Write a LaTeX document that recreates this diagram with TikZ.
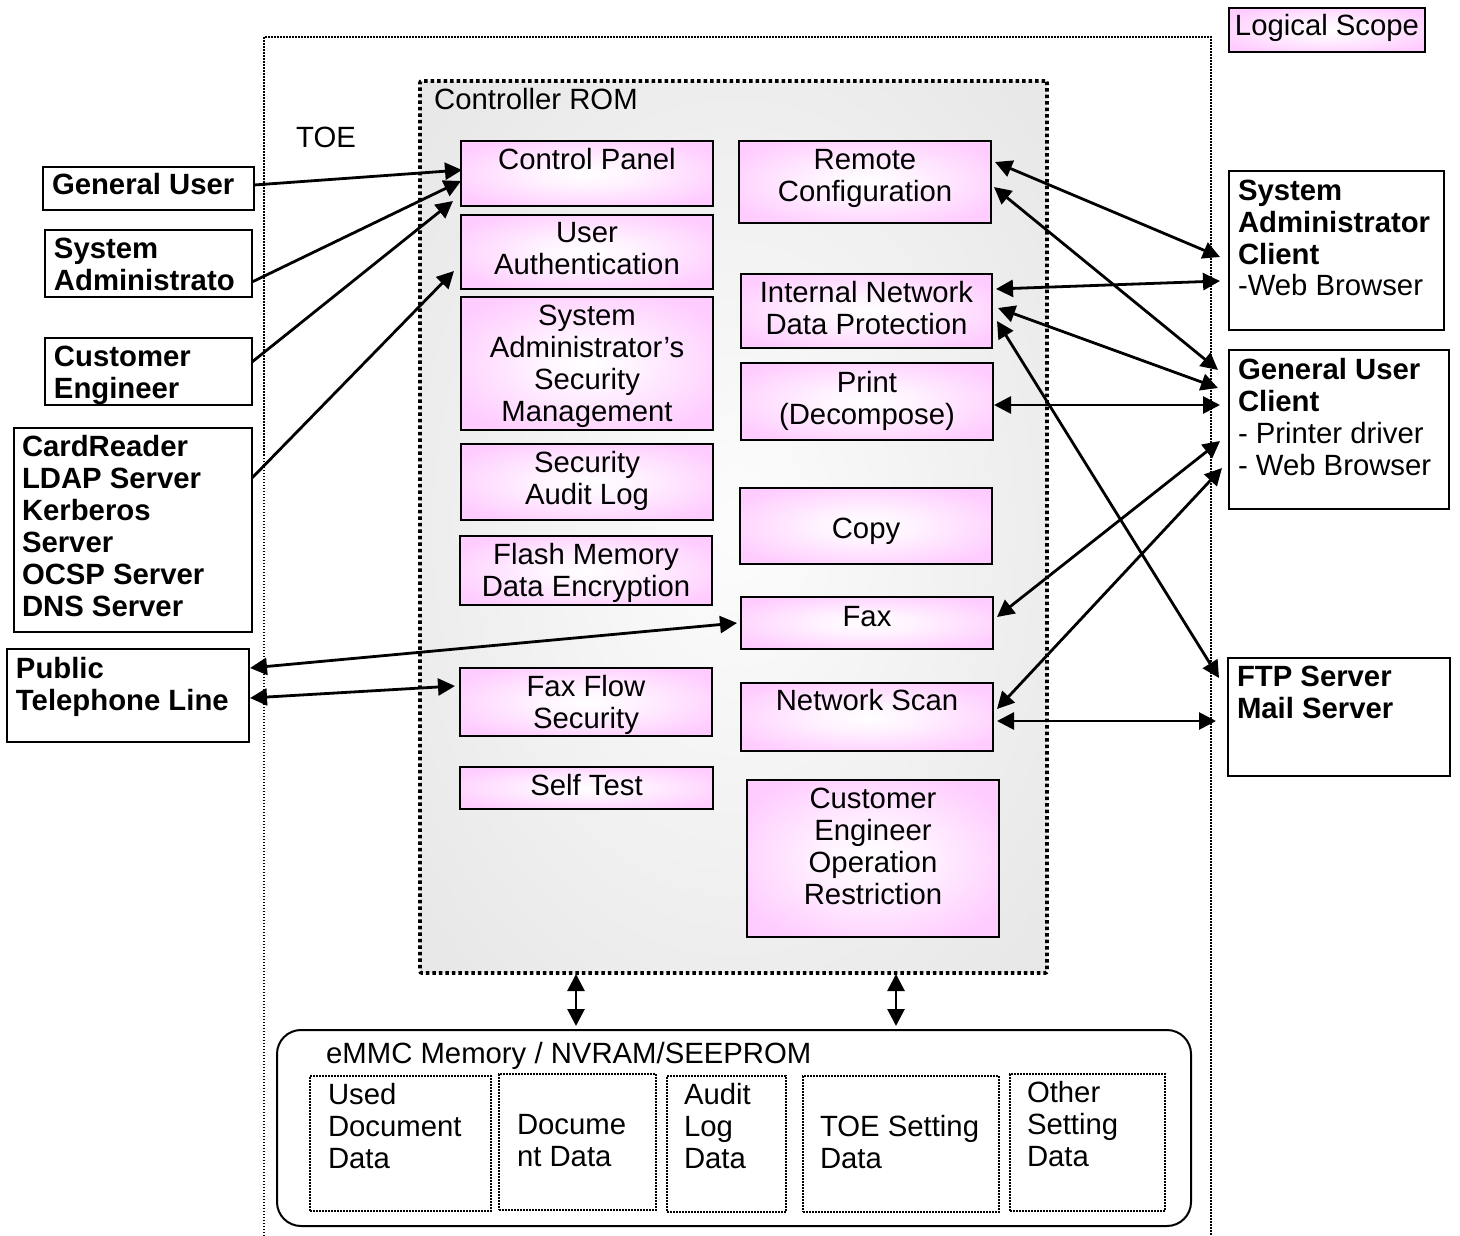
\documentclass[tikz,border=0pt]{standalone}
\usepackage{fontspec}
\setmainfont{Liberation Sans}
\usetikzlibrary{arrows.meta}
\definecolor{pinkc}{HTML}{FFCCFF}
\definecolor{romc}{HTML}{E6E6E6}
\pgfdeclareradialshading{pinkglow}{\pgfpoint{0bp}{0bp}}{color(0bp)=(white); color(10bp)=(white!75!pinkc); color(30bp)=(pinkc); color(100bp)=(pinkc)}
\pgfdeclareradialshading{romglow}{\pgfpoint{0bp}{0bp}}{color(0bp)=(white!90!romc); color(12bp)=(white!60!romc); color(36bp)=(romc); color(100bp)=(romc)}
\tikzset{
  pinkbox/.style={shade,shading=pinkglow,draw=black,line width=2.2pt},
  whitebox/.style={draw=black,fill=white,line width=2pt},
  dotbox/.style={draw=black,fill=white,line width=1.6pt,dash pattern=on 1.6pt off 1.4pt},
  rombox/.style={shade,shading=romglow,draw=black,line width=3.8pt,dash pattern=on 3.5pt off 3pt,rounded corners=2pt},
  memorybox/.style={draw=black,fill=white,line width=2pt,rounded corners=24pt},
  toeline/.style={draw=black,line width=1.5pt,dash pattern=on 1.5pt off 1.5pt},
  plainlabel/.style={inner sep=0pt,anchor=base west},
  twoway/.style={line width=2.8pt,{Triangle[length=17pt,width=17pt]}-{Triangle[length=17pt,width=17pt]}},
  oneway/.style={line width=2.8pt,-{Triangle[length=17pt,width=17pt]}}
}
% #1 style, #2 name, #3 x1, #4 y1, #5 x2, #6 y2, #7 first baseline below top, #8 text (centred)
\newcommand{\cbox}[8]{%
  \pgfmathsetmacro{\bw}{#5-#3}\pgfmathsetmacro{\bh}{#6-#4}%
  \pgfmathsetmacro{\bx}{(#3+#5)/2}\pgfmathsetmacro{\by}{(#4+#6)/2}%
  \node[#1,inner sep=0pt,outer sep=0pt,minimum width=\bw pt,minimum height=\bh pt] (#2) at (\bx,\by)
   {\parbox[c][\bh pt][t]{\bw pt}{\centering\rule{0pt}{#7pt}#8}};}
% left aligned: #7 indent, #8 first baseline below top, #9 text
\newcommand{\lbox}[9]{%
  \pgfmathsetmacro{\bw}{#5-#3}\pgfmathsetmacro{\bh}{#6-#4}%
  \pgfmathsetmacro{\bx}{(#3+#5)/2}\pgfmathsetmacro{\by}{(#4+#6)/2}%
  \node[#1,inner sep=0pt,outer sep=0pt,minimum width=\bw pt,minimum height=\bh pt] (#2) at (\bx,\by)
   {\parbox[c][\bh pt][t]{\bw pt}{\raggedright\leftskip=#7pt\rule{0pt}{#8pt}#9}};}
\begin{document}
\begin{tikzpicture}[x=1pt,y=-1pt,every node/.style={font=\fontsize{29.3}{32}\selectfont}]
\useasboundingbox[fill=white] (0,0) rectangle (1460,1236);
% TOE frame
\draw[toeline] (264,1236) -- (264,37) -- (1211,37) -- (1211,1236);
\node[plainlabel] (toe) at (296,148) {TOE};
% Logical scope
\cbox{pinkbox}{scope}{1229}{8}{1425}{52}{27.5}{Logical Scope}
% Controller ROM
\cbox{rombox}{rom}{420}{81}{1047}{973}{0}{}
\node[plainlabel] (romlabel) at (434,110) {Controller ROM};
% left column
\cbox{pinkbox}{cpanel}{461}{141}{713}{206}{28.6}{Control Panel}
\cbox{pinkbox}{uauth}{461}{215}{713}{289}{27.6}{User\\Authentication}
\cbox{pinkbox}{ssm}{461}{297}{713}{430}{28.3}{System\\Administrator’s\\Security\\Management}
\cbox{pinkbox}{audit}{461}{444}{713}{520}{28.3}{Security\\Audit Log}
\cbox{pinkbox}{flash}{460}{536}{712}{605}{28.3}{Flash Memory\\Data Encryption}
\cbox{pinkbox}{fflow}{460}{668}{712}{736}{28.3}{Fax Flow\\Security}
\cbox{pinkbox}{stest}{460}{767}{713}{809}{28.3}{Self Test}
% right column
\cbox{pinkbox}{remote}{739}{141}{991}{223}{28.6}{Remote\\Configuration}
\cbox{pinkbox}{inet}{741}{274}{992}{348}{28.3}{Internal Network\\Data Protection}
\cbox{pinkbox}{print}{741}{363}{993}{440}{29.3}{Print\\(Decompose)}
\cbox{pinkbox}{copy}{740}{488}{992}{564}{50.3}{Copy}
\cbox{pinkbox}{fax}{741}{597}{993}{649}{29.3}{Fax}
\cbox{pinkbox}{nscan}{741}{683}{993}{751}{27.3}{Network Scan}
\cbox{pinkbox}{cerest}{747}{780}{999}{937}{28.3}{Customer\\Engineer\\Operation\\Restriction}
% external actors
\lbox{whitebox}{guser}{43}{167}{254}{210}{9}{27}{\bfseries General User}
\lbox{whitebox}{sadm}{45}{230}{252}{297}{9}{28}{\bfseries System\\Administrato}
\lbox{whitebox}{ceng}{45}{338}{252}{405}{9}{28}{\bfseries Customer\\Engineer}
\lbox{whitebox}{card}{14}{428}{252}{632}{8}{28}{\bfseries CardReader\\LDAP Server\\Kerberos\\Server\\OCSP Server\\DNS Server}
\lbox{whitebox}{phone}{7}{649}{249}{742}{9}{29}{\bfseries Public\\Telephone Line}
\lbox{whitebox}{sadmc}{1229}{171}{1444}{330}{9}{29}{{\bfseries System\\Administrator\\Client\\}-Web Browser}
\lbox{whitebox}{guc}{1229}{350}{1449}{509}{9}{29}{{\bfseries General User\\Client\\}- Printer driver\\- Web Browser}
\lbox{whitebox}{ftp}{1228}{658}{1450}{776}{9}{28}{\bfseries FTP Server\\Mail Server}
% memory
\cbox{memorybox}{mem}{277}{1030}{1191}{1226}{0}{}
\node[plainlabel] (memlabel) at (326,1063) {eMMC Memory / NVRAM/SEEPROM};
\lbox{dotbox}{dused}{310}{1076}{491}{1211}{18}{28}{Used\\Document\\Data}
\lbox{dotbox}{ddoc}{499}{1074}{656}{1210}{18}{60}{Docume\\nt Data}
\lbox{dotbox}{dlog}{667}{1076}{786}{1212}{17}{28}{Audit\\Log\\Data}
\lbox{dotbox}{dtoe}{803}{1076}{999}{1212}{17}{60}{TOE Setting\\Data}
\lbox{dotbox}{dother}{1010}{1074}{1165}{1211}{17}{28}{Other\\Setting\\Data}
% one-way connectors
\draw[oneway] ([shift={(0,-3.5)}]guser.east) -- ([shift={(1,-3.5)}]cpanel.west);
\draw[oneway] ([shift={(0,18.5)}]sadm.east) -- ([shift={(0,7.5)}]cpanel.west);
\draw[oneway] ([shift={(0,-9.5)}]ceng.east) -- ([shift={(-8,27.5)}]cpanel.west);
\draw[oneway] ([shift={(0,-52)}]card.east) -- ([shift={(-7,19)}]uauth.west);
% two-way connectors
\draw[twoway] ([shift={(1,-27.5)}]phone.east) -- ([shift={(-4,0)}]fax.west);
\draw[twoway] ([shift={(1,2.5)}]phone.east) -- ([shift={(-5,-16)}]fflow.west);
\draw[twoway] ([shift={(4,-20)}]remote.east) -- ([shift={(-9,6.5)}]sadmc.west);
\draw[twoway] ([shift={(3,5)}]remote.east) -- ([shift={(-11,-59.5)}]guc.west);
\draw[twoway] ([shift={(4,-22)}]inet.east) -- ([shift={(-9,30.5)}]sadmc.west);
\draw[twoway] ([shift={(6,-3)}]inet.east) -- ([shift={(-11,-41.5)}]guc.west);
\draw[twoway] ([shift={(5,10)}]inet.east) -- ([shift={(-9,-39)}]ftp.west);
\draw[twoway] ([shift={(1,3.5)}]print.east) -- ([shift={(-9,-24.5)}]guc.west);
\draw[twoway] ([shift={(4,-6)}]fax.east) -- ([shift={(-9,11.5)}]guc.west);
\draw[twoway] ([shift={(4,-8)}]nscan.east) -- ([shift={(-7,38.5)}]guc.west);
\draw[twoway] ([shift={(4,4)}]nscan.east) -- ([shift={(-12,4)}]ftp.west);
\draw[twoway] ([shift={(-157.5,1)}]rom.south) -- ([shift={(-158,-4)}]mem.north);
\draw[twoway] ([shift={(162.5,1)}]rom.south) -- ([shift={(162,-4)}]mem.north);
\end{tikzpicture}
\end{document}
